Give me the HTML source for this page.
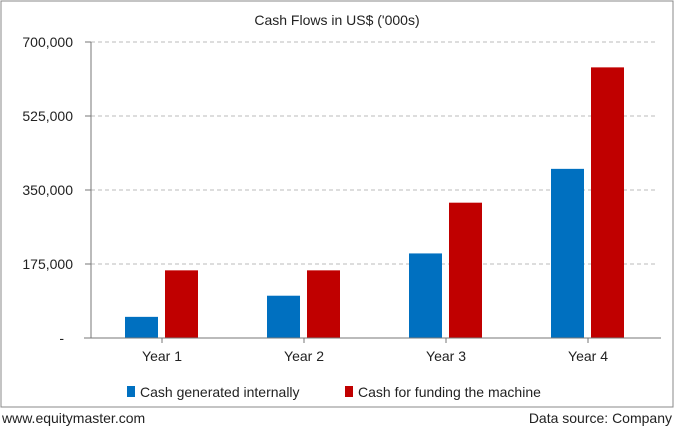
<!DOCTYPE html>
<html><head><meta charset="utf-8"><style>
body{margin:0;background:#fff;font-family:"Liberation Sans",sans-serif;}
svg text{font-family:"Liberation Sans",sans-serif;}
</style></head><body>
<svg width="675" height="428" xmlns="http://www.w3.org/2000/svg">
<rect x="1" y="1" width="672" height="406" fill="#fff" stroke="#888" stroke-width="1"/>
<text x="337" y="25" text-anchor="middle" font-size="14" fill="#222">Cash Flows in US$ ('000s)</text>
<g id="grid"></g><g id="bars"></g><g id="axes"></g>
<g>
<rect x="127" y="386" width="8" height="11" fill="#0070c0"/>
<text x="140" y="397" font-size="14" fill="#222">Cash generated internally</text>
<rect x="345" y="386" width="8" height="11" fill="#c00000"/>
<text x="358" y="397" font-size="14" fill="#222">Cash for funding the machine</text>
</g>
<text x="2" y="423" font-size="14" fill="#222">www.equitymaster.com</text>
<text x="672" y="423" text-anchor="end" font-size="14" fill="#222">Data source: Company</text>
</svg>
<script>
const categories=["Year 1","Year 2","Year 3","Year 4"];
const internalValues=[50000,100000,200000,400000];
const fundingValues=[160000,160000,320000,640000];
const tickValues=[0,175000,350000,525000,700000];
const tickLabels=["-","175,000","350,000","525,000","700,000"];
const NS="http://www.w3.org/2000/svg";
const x0=91,x1=659,yTop=42,yBase=338,yMax=700000;
const y=v=>yBase-(v/yMax)*(yBase-yTop);
const bw=(x1-x0)/categories.length;
const cx=i=>x0+bw*(i+0.5);
function mk(tag,attrs,parent){const e=document.createElementNS(NS,tag);for(const k in attrs)e.setAttribute(k,attrs[k]);document.getElementById(parent).appendChild(e);return e;}
tickValues.forEach((v,i)=>{
 if(v>0){const g=mk('line',{x1:x0,x2:657,y1:y(v),y2:y(v),stroke:'#bbb','stroke-dasharray':'4,3'},'grid');
 
 }
 const t=mk('line',{x1:x0-6,x2:x0,y1:y(v),y2:y(v),stroke:'#777'},'axes');
 
 
 const l=mk('text',{x:v===0?64:73,y:y(v)+5,'text-anchor':'end','font-size':'14',fill:'#222'},'axes');
 l.textContent=tickLabels[i];
 
 
});
categories.forEach((c,i)=>{
 const b1=mk('rect',{x:cx(i)-37,y:y(internalValues[i]),width:33,height:yBase-y(internalValues[i]),fill:'#0070c0'},'bars');
 
 
 const b2=mk('rect',{x:cx(i)+3,y:y(fundingValues[i]),width:33,height:yBase-y(fundingValues[i]),fill:'#c00000'},'bars');
 
 
 const t=mk('line',{x1:cx(i),x2:cx(i),y1:yBase,y2:yBase+5,stroke:'#777'},'axes');
 
 
 const l=mk('text',{x:cx(i),y:yBase+23,'text-anchor':'middle','font-size':'14',fill:'#222'},'axes');
 l.textContent=c;
 
 
});
const ya=mk('line',{x1:x0,x2:x0,y1:yTop,y2:yBase,stroke:'#777'},'axes');


const xa=mk('line',{x1:84,x2:661,y1:yBase,y2:yBase,stroke:'#777'},'axes');


</script>
</body></html>
